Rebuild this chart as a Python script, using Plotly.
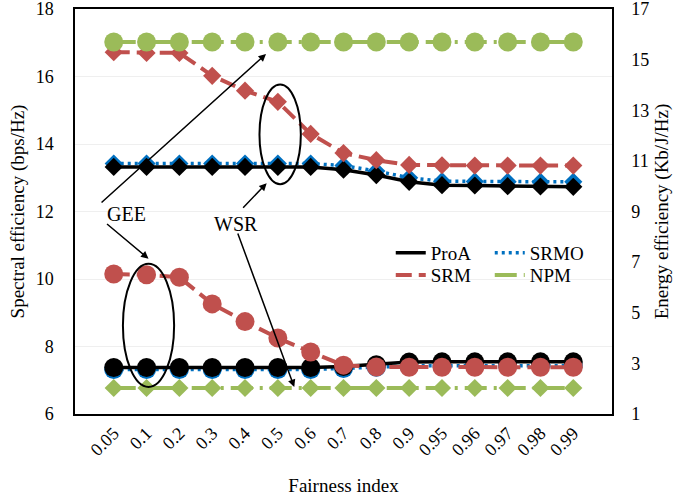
import plotly.graph_objects as go

categories = ["0.05", "0.1", "0.2", "0.3", "0.4", "0.5", "0.6", "0.7", "0.8", "0.9",
              "0.95", "0.96", "0.97", "0.98", "0.99"]

# Spectral efficiency (left axis, diamonds)
se_proa = [13.32, 13.32, 13.32, 13.32, 13.32, 13.32, 13.32, 13.24, 13.08, 12.88, 12.78, 12.77, 12.75, 12.74, 12.73]
se_srmo = [13.42, 13.42, 13.42, 13.42, 13.42, 13.42, 13.42, 13.36, 13.20, 13.00, 12.90, 12.89, 12.88, 12.88, 12.88]
se_srm = [16.72, 16.70, 16.70, 16.02, 15.58, 15.25, 14.30, 13.73, 13.52, 13.38, 13.37, 13.36, 13.36, 13.36, 13.36]
se_npm = [6.77] * 15

# Energy efficiency (right axis, circles)
ee_proa = [2.84, 2.84, 2.84, 2.84, 2.84, 2.84, 2.84, 2.88, 2.95, 3.05, 3.06, 3.06, 3.06, 3.06, 3.06]
ee_srmo = [2.76, 2.76, 2.76, 2.76, 2.76, 2.76, 2.76, 2.80, 2.85, 2.90, 2.91, 2.91, 2.91, 2.91, 2.91]
ee_srm = [6.53, 6.50, 6.40, 5.35, 4.65, 4.00, 3.45, 2.93, 2.86, 2.85, 2.85, 2.85, 2.85, 2.85, 2.85]
ee_npm = [15.70] * 15

names = ["ProA", "SRMO", "SRM", "NPM"]
colors = {"ProA": "#000000", "SRMO": "#0070C0", "SRM": "#C0504D", "NPM": "#9BBB59"}
dashes = {"ProA": "solid", "SRMO": "3px,4px", "SRM": "16px,7px", "NPM": "22px,7px,3px,7px"}
widths = {"ProA": 3.5, "SRMO": 3.5, "SRM": 4, "NPM": 4}

FONT = "'Liberation Serif', 'Times New Roman', Times, serif"
fig = go.Figure()

se = {"ProA": se_proa, "SRMO": se_srmo, "SRM": se_srm, "NPM": se_npm}
ee = {"ProA": ee_proa, "SRMO": ee_srmo, "SRM": ee_srm, "NPM": ee_npm}

# SE traces (left axis)
for n in ["SRMO", "ProA", "SRM", "NPM"]:
    fig.add_trace(go.Scatter(
        x=categories, y=se[n], mode="lines+markers", showlegend=False,
        line=dict(color=colors[n], width=widths[n], dash=dashes[n]),
        marker=dict(symbol="diamond", size=14, color=colors[n]),
        yaxis="y"))

# EE traces (right axis)
for n in ["SRMO", "ProA", "SRM", "NPM"]:
    fig.add_trace(go.Scatter(
        x=categories, y=ee[n], mode="lines+markers", showlegend=False,
        line=dict(color=colors[n], width=widths[n], dash=dashes[n]),
        marker=dict(symbol="circle", size=19, color=colors[n]),
        yaxis="y2"))

# legend entries (lines only)
for n, lg in zip(names, ["legend", "legend", "legend2", "legend2"]):
    fig.add_trace(go.Scatter(
        x=[None], y=[None], mode="lines", name=n, legend=lg,
        line=dict(color=colors[n], width=widths[n], dash=dashes[n])))

fig.update_layout(
    width=683, height=503,
    margin=dict(l=75, r=71, t=9, b=89),
    plot_bgcolor="white", paper_bgcolor="white",
    font=dict(family=FONT, size=19, color="black"),
    xaxis=dict(type="category", tickangle=-45, tickfont=dict(size=18),
               showline=True, linecolor="black", linewidth=1.5, mirror=True,
               showgrid=False, ticks="", automargin=False,
               title=dict(text="Fairness index", font=dict(size=19), standoff=20)),
    yaxis=dict(range=[6, 18], dtick=2, showline=True, linecolor="black", linewidth=1.5,
               mirror=True, gridcolor="#EFEFEF", gridwidth=1, zeroline=False, ticks="",
               ticklabelstandoff=16, tickfont=dict(size=18), ticklabeloverflow="allow",
               automargin=False,
               title=dict(text="Spectral efficiency (bps/Hz)", font=dict(size=19), standoff=6)),
    yaxis2=dict(range=[1, 17], tick0=1, dtick=2, overlaying="y", side="right", showgrid=False,
                zeroline=False, ticks="", showline=True, linecolor="black", linewidth=1.5,
                ticklabelstandoff=14, tickfont=dict(size=18), ticklabeloverflow="allow",
                automargin=False,
                title=dict(text="Energy efficiency (Kb/J/Hz)", font=dict(size=19), standoff=6)),
    legend=dict(orientation="h", x=0.588, y=0.445, xanchor="left", yanchor="top",
                bgcolor="rgba(0,0,0,0)", entrywidth=54, font=dict(size=19),
                tracegroupgap=0, itemwidth=30),
    legend2=dict(orientation="h", x=0.588, y=0.39, xanchor="left", yanchor="top",
                 bgcolor="rgba(0,0,0,0)", entrywidth=54, font=dict(size=19),
                 tracegroupgap=0, itemwidth=30),
)

# ellipses
fig.add_shape(type="circle", xref="x", yref="y", x0=4.44, x1=5.70, y0=12.81, y1=15.76,
              line=dict(color="black", width=2))
fig.add_shape(type="circle", xref="x", yref="y", x0=0.28, x1=1.84, y0=6.8, y1=10.45,
              line=dict(color="black", width=2))

# arrows
arrows = [
    (4.64, 16.67, -166, 150),
    (1.06, 10.6, -43, -36),
    (4.66, 12.84, -25, 26),
    (5.5, 6.8, -57, -155),
]
for xh, yh, ax, ay in arrows:
    fig.add_annotation(x=xh, y=yh, xref="x", yref="y", text="", showarrow=True,
                       ax=ax, ay=ay, arrowhead=2, arrowsize=1, arrowwidth=1.5,
                       arrowcolor="black", standoff=0)

fig.add_annotation(x=0.39, y=11.93, xref="x", yref="y", text="GEE", showarrow=False,
                   font=dict(size=20))
fig.add_annotation(x=3.72, y=11.63, xref="x", yref="y", text="WSR", showarrow=False,
                   font=dict(size=20))

fig.write_html("out.html")
